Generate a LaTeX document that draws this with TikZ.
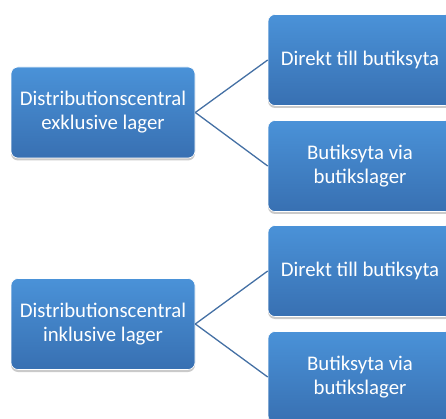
\documentclass[tikz,border=0pt]{standalone}
\usepackage{fontspec}
\setmainfont{Carlito}
\usetikzlibrary{shadows}
\definecolor{boxtop}{RGB}{74,146,216}
\definecolor{boxbot}{RGB}{56,112,178}
\definecolor{linec}{RGB}{68,112,164}
\tikzset{
  box/.style={rectangle, rounded corners=7pt, minimum width=184pt, minimum height=91pt,
    top color=boxtop, bottom color=boxbot, draw=white, line width=0.6pt,
    text=white, align=center, inner sep=2pt,
    font=\fontsize{20.8}{24}\selectfont,
    drop shadow={shadow xshift=0pt, shadow yshift=-2.5pt, opacity=0.35, fill=black!60}},
  conn/.style={draw=linec, line width=1.3pt}
}
\begin{document}
\begin{tikzpicture}[x=1pt,y=-1pt]
\useasboundingbox (0,0) rectangle (446,419);
\node[box] (dc1) at (103,112.5) {Distributionscentral\\exklusive lager};
\node[box] (r1) at (360,60) {Direkt till butiksyta};
\node[box] (r2) at (360,166) {Butiksyta via\\butikslager};
\node[box] (dc2) at (103,324) {Distributionscentral\\inklusive lager};
\node[box] (r3) at (360,271) {Direkt till butiksyta};
\node[box] (r4) at (360,377) {Butiksyta via\\butikslager};
\draw[conn] (dc1.east) -- (r1.west);
\draw[conn] (dc1.east) -- (r2.west);
\draw[conn] (dc2.east) -- (r3.west);
\draw[conn] (dc2.east) -- (r4.west);
\end{tikzpicture}
\end{document}
